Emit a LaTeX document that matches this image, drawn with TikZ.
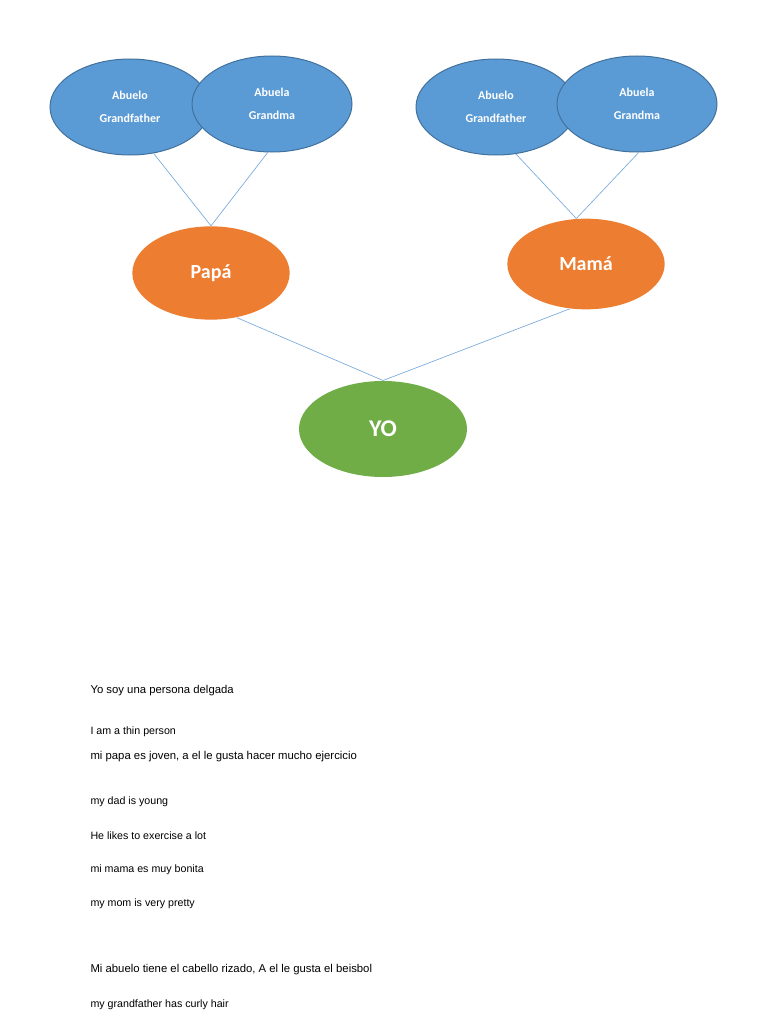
\documentclass[tikz,border=0pt]{standalone}
\usepackage{fontspec}
\setmainfont{Liberation Sans}
\newfontfamily\calibri{Carlito}
\usetikzlibrary{shapes.geometric}
\definecolor{blueFill}{RGB}{91,155,213}
\definecolor{blueLine}{RGB}{65,113,156}
\definecolor{orangeFill}{RGB}{237,125,49}
\definecolor{greenFill}{RGB}{112,173,71}
\definecolor{linkBlue}{RGB}{120,170,220}
\tikzset{every picture/.style={line width=0.75pt}}
\begin{document}
\begin{tikzpicture}[x=0.75pt,y=0.75pt,yscale=-1,xscale=1,
  grand/.style={ellipse,draw=blueLine,fill=blueFill,minimum width=120,minimum height=72,inner sep=0pt,
    text=white,font=\calibri\bfseries\fontsize{9}{17}\selectfont,align=center},
  parent/.style={ellipse,fill=orangeFill,minimum width=118,minimum height=70,inner sep=0pt,
    text=white,font=\calibri\bfseries\fontsize{15}{18}\selectfont},
  link/.style={draw=linkBlue,line width=0.5pt},
  line/.style={anchor=west,inner sep=0pt,font=\fontsize{8.5}{10}\selectfont}]
\useasboundingbox (0,0) rectangle (768,1024);

% grandparents
\node [grand] (abuelo1) at (130,107) {Abuelo\\Grandfather};
\node [grand] (abuela1) at (272,104) {Abuela\\Grandma};
\node [grand] (abuelo2) at (496,107) {Abuelo\\Grandfather};
\node [grand] (abuela2) at (637,104) {Abuela\\Grandma};
% parents
\node [parent] (papa) at (211,273) {Papá};
\node [parent,minimum height=68] (mama) at (586,264) {Mamá};
\node [parent,fill=greenFill,minimum width=126,minimum height=72,font=\calibri\bfseries\fontsize{18}{20}\selectfont] (yo) at (383,429) {YO};

% links
\draw [link] (abuelo1.297) -- (papa.north);
\draw [link] (abuela1.265) -- (papa.north);
\draw [link] (abuelo2.293) -- (mama.102);
\draw [link] (abuela2.272) -- (mama.102);
\draw [link] (papa.300) -- (yo.north);
\draw [link] (mama.250) -- (yo.north);

% text
\node [line] (t1) at (90,691) {Yo soy una persona delgada};
\node [line,font=\fontsize{8}{10}\selectfont] (t2) at (90,732) {I am a thin person};
\node [line] (t3) at (90,757) {mi papa es joven, a el le gusta hacer mucho ejercicio};
\node [line,font=\fontsize{8}{10}\selectfont] (t4) at (90,802) {my dad is young};
\node [line,font=\fontsize{8}{10}\selectfont] (t5) at (90,836) {He likes to exercise a lot};
\node [line,font=\fontsize{8}{10}\selectfont] (t6) at (90,870) {mi mama es muy bonita};
\node [line,font=\fontsize{8}{10}\selectfont] (t7) at (90,904) {my mom is very pretty};
\node [line] (t8) at (90,970) {Mi abuelo tiene el cabello rizado, A el le gusta el beisbol};
\node [line,font=\fontsize{8}{10}\selectfont] (t9) at (90,1005) {my grandfather has curly hair};
\end{tikzpicture}
\end{document}
